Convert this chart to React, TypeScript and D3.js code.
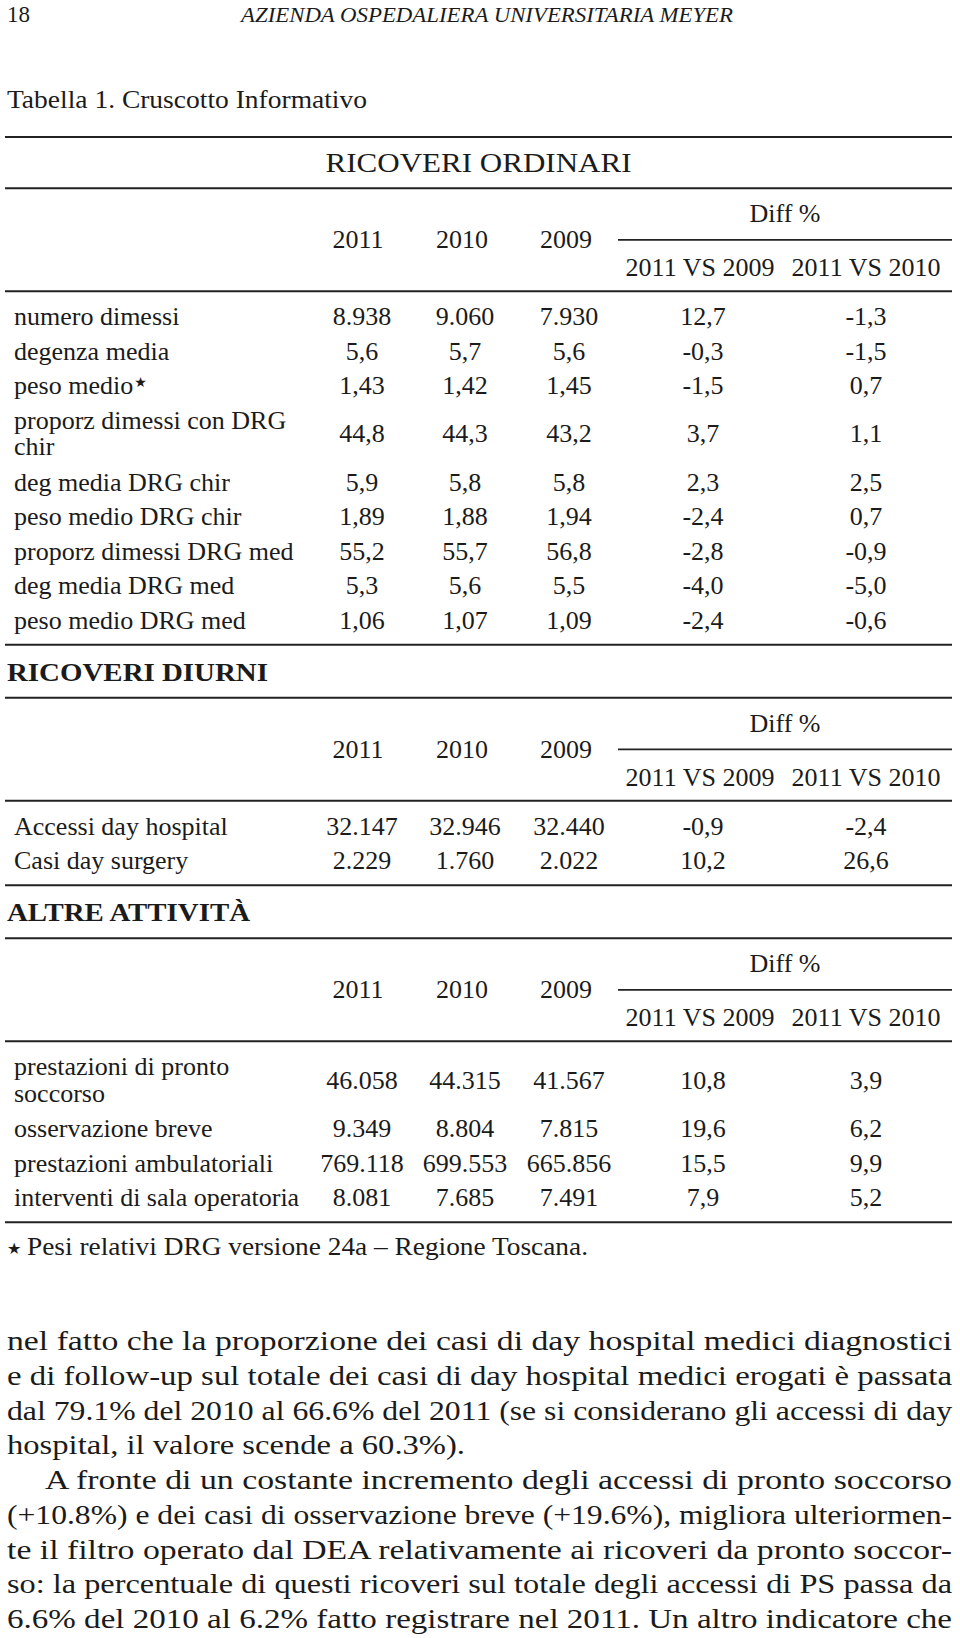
import React from "react";
import * as d3 from "d3";

const FONT = "'Liberation Serif', 'Times New Roman', serif";
const INK = "#1b1b1b";

// ---------- DATA ----------
const pageNumber = "18";
const runningHead = "AZIENDA OSPEDALIERA UNIVERSITARIA MEYER";
const tableTitle = "Tabella 1. Cruscotto Informativo";
const sectionTitles = ["RICOVERI ORDINARI", "RICOVERI DIURNI", "ALTRE ATTIVITÀ"];

const yearHeaders = ["2011", "2010", "2009"];
const diffHeaders = ["2011 VS 2009", "2011 VS 2010"];
const diffTitle = "Diff %";

const ordLabels = [
  "numero dimessi",
  "degenza media",
  "peso medio*",
  "proporz dimessi con DRG|chir",
  "deg media DRG chir",
  "peso medio DRG chir",
  "proporz dimessi DRG med",
  "deg media DRG med",
  "peso medio DRG med",
];
const ord2011 = ["8.938", "5,6", "1,43", "44,8", "5,9", "1,89", "55,2", "5,3", "1,06"];
const ord2010 = ["9.060", "5,7", "1,42", "44,3", "5,8", "1,88", "55,7", "5,6", "1,07"];
const ord2009 = ["7.930", "5,6", "1,45", "43,2", "5,8", "1,94", "56,8", "5,5", "1,09"];
const ordDiff09 = ["12,7", "-0,3", "-1,5", "3,7", "2,3", "-2,4", "-2,8", "-4,0", "-2,4"];
const ordDiff10 = ["-1,3", "-1,5", "0,7", "1,1", "2,5", "0,7", "-0,9", "-5,0", "-0,6"];

const diuLabels = ["Accessi day hospital", "Casi day surgery"];
const diu2011 = ["32.147", "2.229"];
const diu2010 = ["32.946", "1.760"];
const diu2009 = ["32.440", "2.022"];
const diuDiff09 = ["-0,9", "10,2"];
const diuDiff10 = ["-2,4", "26,6"];

const altLabels = [
  "prestazioni di pronto|soccorso",
  "osservazione breve",
  "prestazioni ambulatoriali",
  "interventi di sala operatoria",
];
const alt2011 = ["46.058", "9.349", "769.118", "8.081"];
const alt2010 = ["44.315", "8.804", "699.553", "7.685"];
const alt2009 = ["41.567", "7.815", "665.856", "7.491"];
const altDiff09 = ["10,8", "19,6", "15,5", "7,9"];
const altDiff10 = ["3,9", "6,2", "9,9", "5,2"];

const footnote = "Pesi relativi DRG versione 24a – Regione Toscana.";

const paragraphLines = [
  "nel fatto che la proporzione dei casi di day hospital medici diagnostici",
  "e di follow-up sul totale dei casi di day hospital medici erogati è passata",
  "dal 79.1% del 2010 al 66.6% del 2011 (se si considerano gli accessi di day",
  "hospital, il valore scende a 60.3%).",
  "A fronte di un costante incremento degli accessi di pronto soccorso",
  "(+10.8%) e dei casi di osservazione breve (+19.6%), migliora ulteriormen-",
  "te il filtro operato dal DEA relativamente ai ricoveri da pronto soccor-",
  "so: la percentuale di questi ricoveri sul totale degli accessi di PS passa da",
  "6.6% del 2010 al 6.2% fatto registrare nel 2011. Un altro indicatore che",
];
// paragraph line kinds: "j" justified, "e" end of paragraph, "i" indented + justified
const paragraphKinds = ["j", "j", "j", "e", "i", "j", "j", "j", "j"];

// ---------- LAYOUT ----------
const W = 960;
const H = 1638;
const L = 5;
const R = 952;
const TEXT_L = 14;

const colKeys = ["y2011", "y2010", "y2009", "d09", "d10"];
const valueX = d3.scaleOrdinal<string, number>().domain(colKeys).range([362, 465, 569, 703, 866]);
const headX = d3.scaleOrdinal<string, number>().domain(colKeys).range([358, 462, 566, 700, 866]);
const diffTitleX = 785;
const diffLineX0 = 618;

const FS = 26;
const SINGLE = 34.5;
const DOUBLE = 62;
const PAD_TOP = 8;
const PAD_BOT = 7.5;
const HEADER_H = 103;

type Section = {
  labels: string[];
  cols: string[][];
};

const sections: Section[] = [
  { labels: ordLabels, cols: [ord2011, ord2010, ord2009, ordDiff09, ordDiff10] },
  { labels: diuLabels, cols: [diu2011, diu2010, diu2009, diuDiff09, diuDiff10] },
  { labels: altLabels, cols: [alt2011, alt2010, alt2009, altDiff09, altDiff10] },
];

function Rule({ y, x0 = L, x1 = R, w = 2 }: { y: number; x0?: number; x1?: number; w?: number }) {
  return <line x1={x0} x2={x1} y1={y} y2={y} stroke="#222" strokeWidth={w} />;
}

function Table({ top, sec }: { top: number; sec: Section }) {
  const out: React.ReactNode[] = [];
  out.push(<Rule key="top" y={top} />);
  out.push(
    <text key="dt" x={diffTitleX} y={top + 34} textAnchor="middle" fontSize={FS}>
      {diffTitle}
    </text>
  );
  out.push(<Rule key="dl" y={top + 51.5} x0={diffLineX0} w={1.8} />);
  yearHeaders.forEach((h, i) =>
    out.push(
      <text key={"yh" + i} x={headX(colKeys[i])} y={top + 60} textAnchor="middle" fontSize={FS}>
        {h}
      </text>
    )
  );
  diffHeaders.forEach((h, i) =>
    out.push(
      <text key={"dh" + i} x={headX(colKeys[3 + i])} y={top + 88} textAnchor="middle" fontSize={FS}>
        {h}
      </text>
    )
  );
  const hb = top + HEADER_H;
  out.push(<Rule key="hb" y={hb} />);
  let cur = hb + PAD_TOP;
  sec.labels.forEach((lab, r) => {
    const parts = lab.split("|");
    const h = parts.length > 1 ? DOUBLE : SINGLE;
    const base = cur + h / 2 + 8.5;
    if (parts.length > 1) {
      out.push(
        <text key={"l" + r + "a"} x={TEXT_L} y={base - 13.5} fontSize={FS}>
          {parts[0]}
        </text>
      );
      out.push(
        <text key={"l" + r + "b"} x={TEXT_L} y={base + 13} fontSize={FS}>
          {parts[1]}
        </text>
      );
    } else if (lab.endsWith("*")) {
      out.push(
        <text key={"l" + r} x={TEXT_L} y={base} fontSize={FS}>
          {lab.slice(0, -1)}
          <tspan fontFamily="'DejaVu Sans', sans-serif" fontSize={14} dx={1} dy={-7}>
            ★
          </tspan>
        </text>
      );
    } else {
      out.push(
        <text key={"l" + r} x={TEXT_L} y={base} fontSize={FS}>
          {lab}
        </text>
      );
    }
    sec.cols.forEach((col, c) =>
      out.push(
        <text key={"v" + r + "_" + c} x={valueX(colKeys[c])} y={base} textAnchor="middle" fontSize={FS}>
          {col[r]}
        </text>
      )
    );
    cur += h;
  });
  const bottom = cur + PAD_BOT;
  out.push(<Rule key="bot" y={bottom} />);
  return { nodes: out, bottom };
}

export default function App() {
  const t1Top = 188.3;
  const t1 = Table({ top: t1Top, sec: sections[0] });
  const title2Y = t1.bottom + 36;
  const t2 = Table({ top: title2Y + 17, sec: sections[1] });
  const title3Y = t2.bottom + 36;
  const t3 = Table({ top: title3Y + 17, sec: sections[2] });
  const footY = t3.bottom + 32.5;

  const paraTop = 1350;
  const paraPitch = 34.75;
  const paraL = 7;

  return (
    <svg
      width={W}
      height={H}
      viewBox={`0 0 ${W} ${H}`}
      style={{ position: "absolute", left: 0, top: 0, background: "#fff" }}
      fontFamily={FONT}
      fill={INK}
    >
      <rect x={0} y={0} width={W} height={H} fill="#fff" />
      <text x={7} y={21.7} fontSize={23}>
        {pageNumber}
      </text>
      <text x={241} y={21.7} fontSize={20} fontStyle="italic" textLength={492} lengthAdjust="spacingAndGlyphs">
        {runningHead}
      </text>
      <text x={7} y={108} fontSize={26} textLength={360} lengthAdjust="spacingAndGlyphs">
        {tableTitle}
      </text>
      <Rule y={137} />
      <text x={325.5} y={172} fontSize={27} textLength={306} lengthAdjust="spacingAndGlyphs">
        {sectionTitles[0]}
      </text>
      {t1.nodes}
      <text x={7} y={title2Y} fontSize={25} fontWeight="bold" textLength={261} lengthAdjust="spacingAndGlyphs">
        {sectionTitles[1]}
      </text>
      {t2.nodes}
      <text x={7} y={title3Y} fontSize={25} fontWeight="bold" textLength={243} lengthAdjust="spacingAndGlyphs">
        {sectionTitles[2]}
      </text>
      {t3.nodes}
      <text x={7} y={footY - 1} fontSize={16} fontFamily="'DejaVu Sans', sans-serif">
        ★
      </text>
      <text x={27} y={footY} fontSize={25} textLength={561} lengthAdjust="spacingAndGlyphs">
        {footnote}
      </text>
      {paragraphLines.map((ln, i) => {
        const kind = paragraphKinds[i];
        const x = kind === "i" ? 45 : paraL;
        const len = kind === "e" ? 458 : R - x;
        return (
          <text
            key={"p" + i}
            x={x}
            y={paraTop + i * paraPitch}
            fontSize={27}
            textLength={len}
            lengthAdjust="spacingAndGlyphs"
          >
            {ln}
          </text>
        );
      })}
    </svg>
  );
}
